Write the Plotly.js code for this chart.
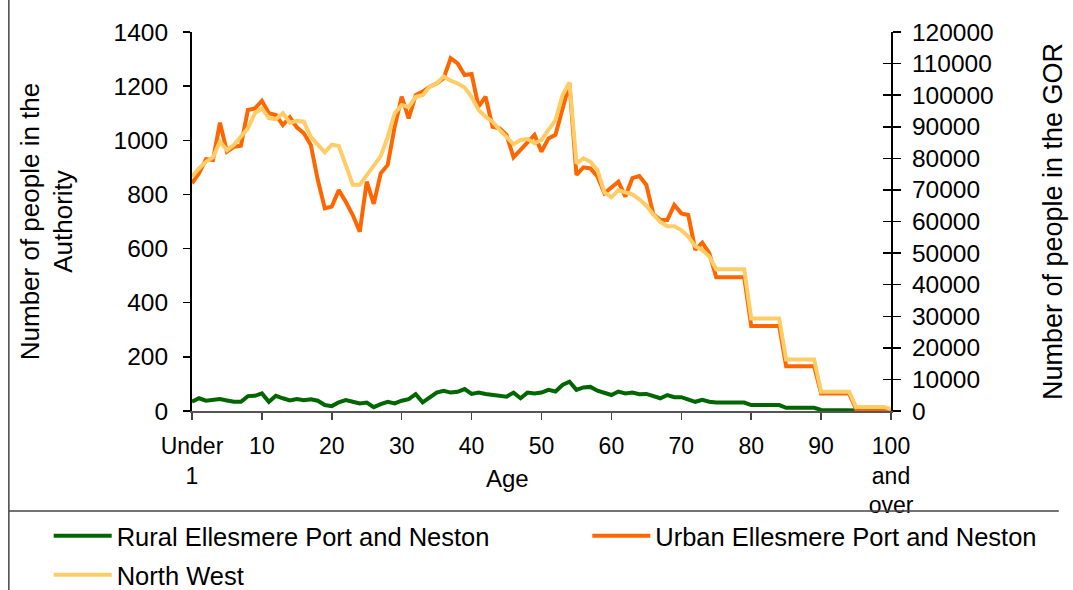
<!DOCTYPE html>
<html>
<head>
<meta charset="utf-8">
<script src="https://cdn.plot.ly/plotly-3.0.1.min.js"></script>
<style>html,body{margin:0;padding:0;background:#fff}#chart{width:1073px;height:590px}</style>
</head>
<body>
<div id="chart"></div>
<script>
// Age categories: Under 1, 1 .. 99, 100 and over
var ages = ["Under 1"];
for (var i = 1; i <= 99; i++) ages.push(String(i));
ages.push("100 and over");

var tickCats = ["Under 1","10","20","30","40","50","60","70","80","90","100 and over"];
var tickLabels = ["Under<br>1","10","20","30","40","50","60","70","80","90","100<br>and<br>over"];

var rural = [34,47,38,40,44,39,34,34,55,56,65,34,56,47,39,44,40,43,38,22,
  18,32,40,34,28,31,14,25,34,28,38,44,62,32,51,68,75,68,71,81,
  63,68,63,59,55,53,68,47,68,65,68,78,72,96,108,78,87,89,75,65,
  59,72,65,68,62,63,55,47,59,51,51,41,34,41,34,31,31,31,31,31,
  22,22,22,22,22,12,12,12,12,12,4,4,4,4,4,1,1,1,1,1,1];

var urban = [841,878,930,927,1065,958,976,980,1112,1118,1146,1100,1093,1056,1085,1048,1026,983,853,749,
  755,816,773,724,662,847,765,878,909,1050,1161,1081,1167,1180,1198,1210,1229,1303,1284,1241,
  1245,1124,1161,1050,1044,1020,937,964,995,1020,958,1007,1020,1118,1210,872,900,896,866,804,
  826,847,792,860,868,835,727,706,706,761,730,724,595,622,583,494,494,494,494,494,
  314,314,314,314,314,165,165,165,165,165,65,65,65,65,65,7,7,7,7,7,3];

var northWest = [74200,76800,78900,80300,85300,82600,84300,86800,89500,94300,95800,92700,92400,94300,91300,91900,91600,86800,84300,81900,
  84300,83900,77900,71600,71600,74700,77900,80700,86800,94300,96900,96300,99500,100000,102700,103700,105900,104600,103700,102400,
  99500,95300,93200,91600,89000,86800,84500,85800,86100,84800,85800,89000,92100,100000,104000,78400,80000,78900,76300,69200,
  67700,69900,69200,68600,67000,65000,62200,59900,58500,58500,57300,55200,52200,51000,48900,44900,44900,44900,44900,44900,
  29300,29300,29300,29300,29300,16300,16300,16300,16300,16300,6100,6100,6100,6100,6100,1300,1300,1300,1300,1300,600];

var FONT = "Liberation Sans, Arial, sans-serif";

var traces = [
  {x: ages, y: rural, name: "Rural Ellesmere Port and Neston", type: "scatter", mode: "lines",
   line: {color: "#006600", width: 4}, yaxis: "y", legend: "legend", legendgroup: "g1"},
  {x: ages, y: urban, name: "Urban Ellesmere Port and Neston", type: "scatter", mode: "lines",
   line: {color: "#FF6600", width: 4}, yaxis: "y", legend: "legend2", legendgroup: "g2"},
  {x: ages, y: northWest, name: "North West", type: "scatter", mode: "lines",
   line: {color: "#FFCC66", width: 4}, yaxis: "y2", legend: "legend", legendgroup: "g3"},
  {x: [], y: [], showlegend: false, hoverinfo: "skip", yaxis: "y3", type: "scatter", mode: "lines"}
];

var legendCommon = {
  orientation: "v", xanchor: "left", yanchor: "top",
  font: {family: FONT, size: 25.5}, itemwidth: 58, bgcolor: "rgba(0,0,0,0)",
  tracegroupgap: 3
};

var layout = {
  width: 1073, height: 590,
  paper_bgcolor: "#fff", plot_bgcolor: "#fff",
  margin: {l: 192, r: 182, t: 32, b: 179, autoexpand: false},
  font: {family: FONT, size: 23, color: "#000"},
  showlegend: true,
  xaxis: {
    type: "category", range: [0, 100],
    tickmode: "array", tickvals: tickCats, ticktext: tickLabels,
    ticks: "outside", ticklen: 7, tickwidth: 1.5, tickcolor: "#444",
    showline: true, linecolor: "#555", linewidth: 2,
    showgrid: false, zeroline: false, ticklabelstandoff: 6,
    tickfont: {family: FONT, size: 23}, tickangle: 0
  },
  yaxis: {
    range: [0, 1400], dtick: 200, tick0: 0,
    ticks: "outside", ticklen: 7, tickwidth: 1.5, tickcolor: "#000",
    showline: true, linecolor: "#000", linewidth: 2,
    showgrid: false, zeroline: false, ticklabelstandoff: 10,
    tickfont: {family: FONT, size: 24.5},
    title: {text: "Number of people in the<br>Authority", font: {family: FONT, size: 26}, standoff: 33}
  },
  yaxis2: {
    overlaying: "y", side: "right", anchor: "x",
    range: [0, 120000], dtick: 10000, tick0: 0, tickformat: "d",
    ticks: "outside", ticklen: 8, tickwidth: 1.5, tickcolor: "#000",
    showline: true, linecolor: "#000", linewidth: 2,
    showgrid: false, zeroline: false, ticklabelstandoff: 6,
    tickfont: {family: FONT, size: 24.5},
    title: {text: "Number of people in the GOR", font: {family: FONT, size: 27}, standoff: 50}
  },
  yaxis3: {
    overlaying: "y", side: "right", anchor: "x",
    range: [0, 120000], dtick: 10000, tick0: 0,
    ticks: "inside", ticklen: 8, tickwidth: 1.5, tickcolor: "#000",
    showline: false, showgrid: false, zeroline: false, showticklabels: false
  },
  legend: Object.assign({x: -0.205, y: -0.268}, legendCommon),
  legend2: Object.assign({x: 0.5655, y: -0.268}, legendCommon),
  annotations: [
    {text: "Age", xref: "paper", yref: "paper", x: 0.452, y: -0.177, xanchor: "center", yanchor: "middle",
     showarrow: false, font: {family: FONT, size: 24}}
  ],
  shapes: [
    {type: "line", xref: "paper", yref: "paper", x0: -0.262, x1: 1.24, y0: -0.2639, y1: -0.2639,
     line: {color: "#444", width: 1.5}},
    {type: "line", xref: "paper", yref: "paper", x0: -0.262, x1: -0.262, y0: 1.09, y1: -0.48,
     line: {color: "#444", width: 1.5}}
  ]
};

Plotly.newPlot("chart", traces, layout, {displayModeBar: false, staticPlot: true});
</script>
</body>
</html>
